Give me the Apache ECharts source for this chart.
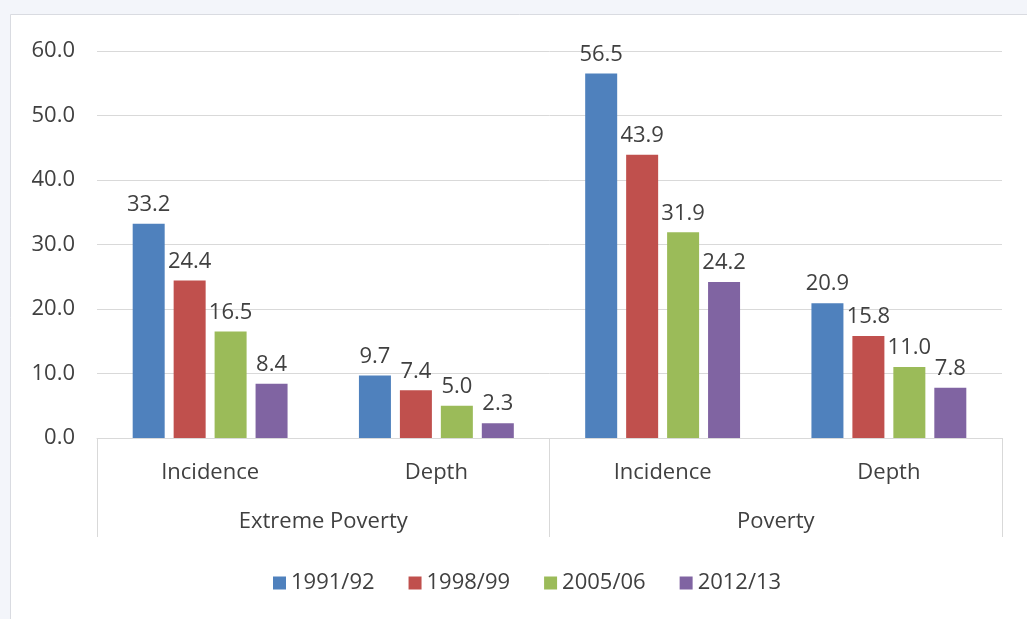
<!DOCTYPE html>
<html>
<head>
<meta charset="utf-8">
<script src="https://cdn.jsdelivr.net/npm/echarts@6/dist/echarts.min.js"></script>
<style>
  html, body { margin: 0; padding: 0; background: #f3f5fa; }
  #main { width: 1027px; height: 619px; }
</style>
</head>
<body>
<div id="main"></div>
<script>
// data
var categories = ["Incidence", "Depth", "Incidence", "Depth"];
var groups = ["Extreme Poverty", "Poverty"];
var years = ["1991/92", "1998/99", "2005/06", "2012/13"];
var v1991 = [33.2, 9.7, 56.5, 20.9];
var v1998 = [24.4, 7.4, 43.9, 15.8];
var v2005 = [16.5, 5.0, 31.9, 11.0];
var v2012 = [8.4, 2.3, 24.2, 7.8];
var colors = ["#4f81bd", "#c0504d", "#9bbb59", "#8064a2"];

var font = "Open Sans";
var textColor = "#404040";
var fs = 22;

var chart = echarts.init(document.getElementById("main"));

function makeSeries(name, data, color) {
  return {
    name: name,
    type: "bar",
    data: data,
    barWidth: 32,
    barGap: "28%",
    itemStyle: { color: color },
    label: {
      show: true,
      position: "top",
      distance: 8,
      color: textColor,
      fontFamily: font,
      fontSize: fs,
      formatter: function (p) { return p.value.toFixed(1); }
    }
  };
}

chart.setOption({
  color: colors,
  animation: false,
  graphic: [
    {
      type: "rect",
      shape: { x: 10.5, y: 14.5, width: 1030, height: 620 },
      style: { fill: "#ffffff", stroke: "#d9dbe1", lineWidth: 1 },
      z: -10
    }
  ],
  grid: { left: 97, right: 25, top: 51, bottom: 181 },
  legend: {
    data: years,
    left: 268,
    top: 567,
    itemWidth: 13,
    itemHeight: 13,
    itemGap: 34,
    icon: "rect",
    textStyle: { color: textColor, fontFamily: font, fontSize: fs }
  },
  xAxis: [
    {
      type: "category",
      data: categories,
      axisLine: { lineStyle: { color: "#d9d9d9" } },
      axisTick: { show: false },
      axisLabel: { color: textColor, fontFamily: font, fontSize: fs, margin: 24 }
    },
    {
      type: "category",
      data: groups,
      position: "bottom",
      axisLine: { show: false },
      axisTick: { show: true, length: 99, lineStyle: { color: "#d9d9d9" } },
      axisLabel: { color: textColor, fontFamily: font, fontSize: fs, margin: 73 },
      splitLine: { show: false }
    }
  ],
  yAxis: {
    type: "value",
    min: 0,
    max: 60,
    interval: 10,
    axisLine: { show: false },
    axisTick: { show: false },
    splitLine: { lineStyle: { color: "#d9d9d9" } },
    axisLabel: {
      color: textColor,
      fontFamily: font,
      fontSize: fs,
      margin: 22,
      formatter: function (v) { return v.toFixed(1); }
    }
  },
  series: [
    makeSeries(years[0], v1991, colors[0]),
    makeSeries(years[1], v1998, colors[1]),
    makeSeries(years[2], v2005, colors[2]),
    makeSeries(years[3], v2012, colors[3])
  ]
});
</script>
</body>
</html>
